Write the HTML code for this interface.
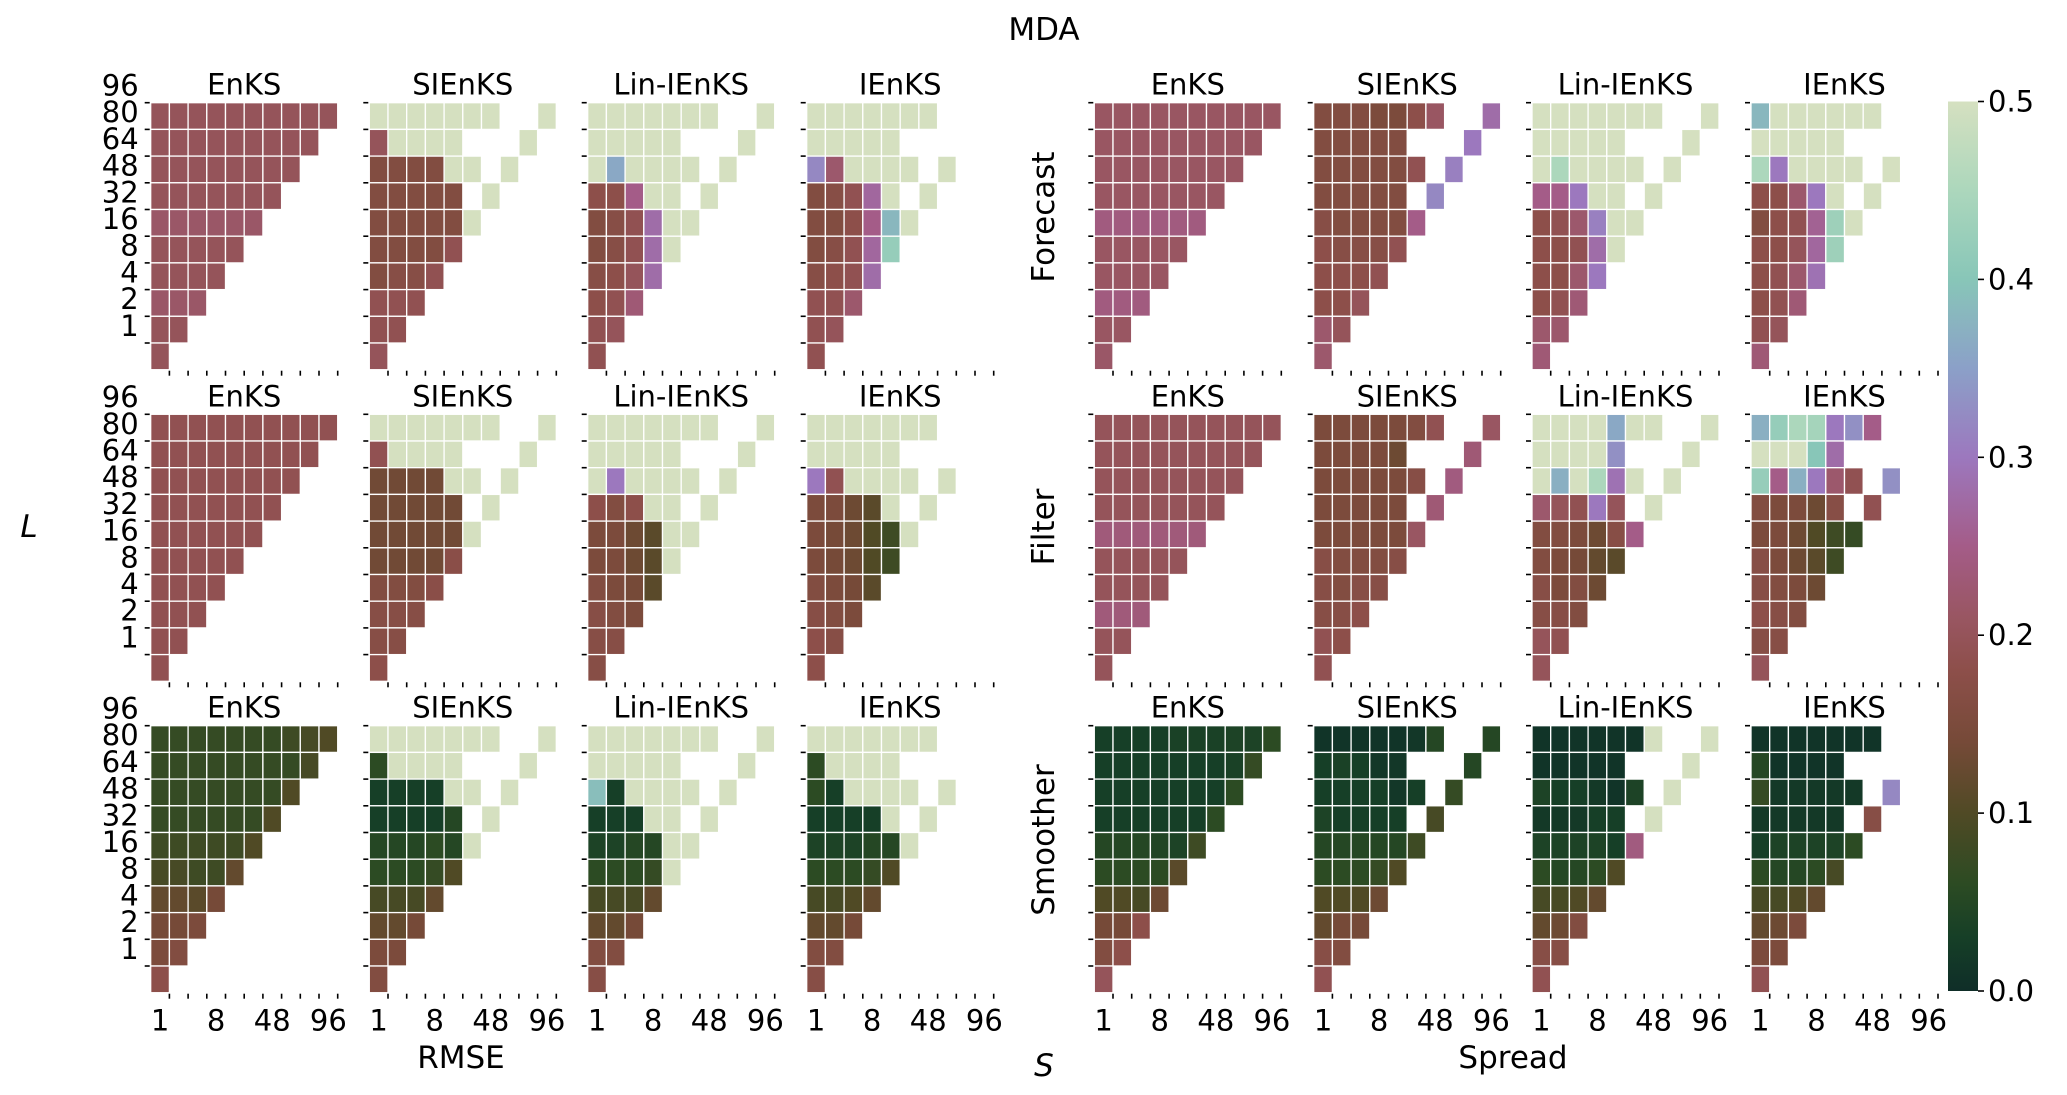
<!DOCTYPE html>
<html><head><meta charset="utf-8"><style>
html,body{margin:0;padding:0;background:#fff;}
svg{display:block;font-family:"DejaVu Sans","Liberation Sans",sans-serif;}
</style></head><body>
<svg id="fig" width="2067" height="1095" viewBox="0 0 2067 1095" xmlns="http://www.w3.org/2000/svg">
<defs>
<linearGradient id="cbgrad" x1="0" y1="1" x2="0" y2="0"></linearGradient>
</defs>
<text x="1044" y="40" font-size="31" text-anchor="middle">MDA</text>
<text x="461" y="1068" font-size="31" text-anchor="middle">RMSE</text>
<text x="1513" y="1068" font-size="31" text-anchor="middle">Spread</text>
<text x="1044" y="1076" font-size="31" font-style="italic" text-anchor="middle">S</text>
<text x="29" y="537" font-size="31" font-style="italic" text-anchor="middle">L</text>
<text transform="translate(1054,217) rotate(-90)" font-size="31" text-anchor="middle">Forecast</text>
<text transform="translate(1054,527) rotate(-90)" font-size="31" text-anchor="middle">Filter</text>
<text transform="translate(1054,840) rotate(-90)" font-size="31" text-anchor="middle">Smoother</text>
<g id="panels"></g>
<g id="colorbar"></g>
</svg>
<script>
const N = null;
const methods = ["EnKS", "SIEnKS", "Lin-IEnKS", "IEnKS"];
const yTickLabels = ["96","80","64","48","32","16","8","4","2","1"];
const xTickLabels = ["1","8","48","96"];
const xTickCells = [0,3,6,9];
const cbTicks = [0.0,0.1,0.2,0.3,0.4,0.5];

// RMSE forecast
const rmseForecastEnKS = [
[0.2,0.2,0.2,0.2,0.2,0.2,0.2,0.2,0.2,0.2],[0.2,0.2,0.2,0.2,0.2,0.2,0.2,0.2,0.2],[0.2,0.2,0.2,0.2,0.2,0.2,0.2,0.2],
[0.2,0.2,0.2,0.2,0.2,0.2,0.2],[0.215,0.215,0.215,0.215,0.215,0.215],[0.2,0.2,0.2,0.2,0.2],[0.2,0.2,0.2,0.2],
[0.215,0.215,0.215],[0.2,0.2],[0.2]];
const rmseForecastSIEnKS = [
[0.5,0.5,0.5,0.5,0.5,0.5,0.5,N,N,0.5],[0.2,0.5,0.5,0.5,0.5,N,N,N,0.5],[0.16,0.16,0.16,0.16,0.5,0.5,N,0.5],
[0.16,0.16,0.16,0.16,0.16,N,0.5],[0.16,0.16,0.16,0.16,0.16,0.5],[0.16,0.16,0.16,0.16,0.19],[0.16,0.17,0.17,0.19],
[0.19,0.19,0.19],[0.19,0.19],[0.2]];
const rmseForecastLin = [
[0.5,0.5,0.5,0.5,0.5,0.5,0.5,N,N,0.5],[0.5,0.5,0.5,0.5,0.5,N,N,N,0.5],[0.5,0.36,0.5,0.5,0.5,0.5,N,0.5],
[0.18,0.18,0.25,0.5,0.5,N,0.5],[0.16,0.17,0.19,0.28,0.5,0.5],[0.16,0.17,0.19,0.28,0.5],[0.17,0.18,0.2,0.28],
[0.18,0.19,0.23],[0.19,0.2],[0.19]];
const rmseForecastIEnKS = [
[0.5,0.5,0.5,0.5,0.5,0.5,0.5,N,N,N],[0.5,0.5,0.5,0.5,0.5,N,N,N,N],[0.32,0.22,0.5,0.5,0.5,0.5,N,0.5],
[0.16,0.17,0.19,0.27,0.5,N,0.5],[0.16,0.16,0.18,0.25,0.38,0.5],[0.16,0.17,0.19,0.27,0.42],[0.17,0.18,0.19,0.28],
[0.19,0.19,0.22],[0.19,0.2],[0.19]];
// RMSE filter
const rmseFilterEnKS = [
[0.19,0.19,0.19,0.19,0.19,0.19,0.19,0.19,0.19,0.19],[0.19,0.19,0.19,0.19,0.19,0.19,0.19,0.19,0.19],[0.19,0.19,0.19,0.19,0.19,0.19,0.19,0.19],
[0.19,0.19,0.19,0.19,0.19,0.19,0.19],[0.19,0.19,0.19,0.19,0.19,0.19],[0.19,0.19,0.19,0.19,0.19],[0.19,0.19,0.19,0.19],
[0.19,0.19,0.19],[0.19,0.19],[0.19]];
const rmseFilterSIEnKS = [
[0.5,0.5,0.5,0.5,0.5,0.5,0.5,N,N,0.5],[0.19,0.5,0.5,0.5,0.5,N,N,N,0.5],[0.135,0.135,0.135,0.135,0.5,0.5,N,0.5],
[0.135,0.135,0.135,0.135,0.135,N,0.5],[0.135,0.135,0.135,0.135,0.135,0.5],[0.135,0.135,0.135,0.135,0.175],[0.16,0.16,0.16,0.175],
[0.17,0.17,0.17],[0.17,0.17],[0.18]];
const rmseFilterLin = [
[0.5,0.5,0.5,0.5,0.5,0.5,0.5,N,N,0.5],[0.5,0.5,0.5,0.5,0.5,N,N,N,0.5],[0.5,0.3,0.5,0.5,0.5,0.5,N,0.5],
[0.18,0.16,0.18,0.5,0.5,N,0.5],[0.15,0.15,0.13,0.11,0.5,0.5],[0.15,0.15,0.13,0.11,0.5],[0.16,0.15,0.14,0.11],
[0.17,0.16,0.15],[0.17,0.17],[0.17]];
const rmseFilterIEnKS = [
[0.5,0.5,0.5,0.5,0.5,0.5,0.5,N,N,N],[0.5,0.5,0.5,0.5,0.5,N,N,N,N],[0.3,0.19,0.5,0.5,0.5,0.5,N,0.5],
[0.15,0.15,0.13,0.11,0.5,N,0.5],[0.15,0.14,0.13,0.1,0.08,0.5],[0.15,0.14,0.13,0.1,0.08],[0.16,0.15,0.14,0.11],
[0.17,0.16,0.15],[0.18,0.17],[0.18]];
// RMSE smoother
const rmseSmootherEnKS = [
[0.07,0.07,0.07,0.07,0.07,0.07,0.07,0.08,0.09,0.1],[0.07,0.07,0.07,0.07,0.07,0.07,0.07,0.07,0.09],[0.07,0.07,0.07,0.07,0.07,0.07,0.07,0.1],
[0.07,0.07,0.07,0.07,0.07,0.07,0.1],[0.08,0.08,0.08,0.08,0.08,0.1],[0.09,0.09,0.08,0.08,0.12],[0.12,0.12,0.11,0.14],
[0.14,0.14,0.15],[0.15,0.16],[0.18]];
const rmseSmootherSIEnKS = [
[0.5,0.5,0.5,0.5,0.5,0.5,0.5,N,N,0.5],[0.06,0.5,0.5,0.5,0.5,N,N,N,0.5],[0.03,0.03,0.03,0.03,0.5,0.5,N,0.5],
[0.03,0.03,0.03,0.03,0.05,N,0.5],[0.05,0.05,0.05,0.06,0.05,0.5],[0.06,0.06,0.06,0.07,0.1],[0.09,0.09,0.09,0.12],
[0.12,0.12,0.14],[0.15,0.15],[0.16]];
const rmseSmootherLin = [
[0.5,0.5,0.5,0.5,0.5,0.5,0.5,N,N,0.5],[0.5,0.5,0.5,0.5,0.5,N,N,N,0.5],[0.39,0.03,0.5,0.5,0.5,0.5,N,0.5],
[0.03,0.03,0.03,0.5,0.5,N,0.5],[0.04,0.04,0.05,0.05,0.5,0.5],[0.06,0.06,0.06,0.07,0.5],[0.09,0.09,0.09,0.12],
[0.12,0.12,0.14],[0.16,0.16],[0.17]];
const rmseSmootherIEnKS = [
[0.5,0.5,0.5,0.5,0.5,0.5,0.5,N,N,N],[0.06,0.5,0.5,0.5,0.5,N,N,N,N],[0.06,0.03,0.5,0.5,0.5,0.5,N,0.5],
[0.03,0.03,0.03,0.03,0.5,N,0.5],[0.04,0.04,0.04,0.05,0.05,0.5],[0.06,0.06,0.06,0.07,0.1],[0.09,0.09,0.1,0.12],
[0.12,0.12,0.14],[0.16,0.16],[0.17]];
// Spread forecast
const spreadForecastEnKS = [
[0.21,0.21,0.21,0.21,0.21,0.21,0.21,0.21,0.21,0.21],[0.21,0.21,0.21,0.21,0.21,0.21,0.21,0.21,0.21],[0.21,0.21,0.21,0.21,0.21,0.21,0.21,0.21],
[0.21,0.21,0.21,0.21,0.21,0.21,0.21],[0.24,0.24,0.24,0.24,0.24,0.24],[0.21,0.21,0.21,0.21,0.21],[0.21,0.21,0.21,0.21],
[0.24,0.24,0.24],[0.21,0.21],[0.215]];
const spreadForecastSIEnKS = [
[0.16,0.16,0.16,0.15,0.15,0.18,0.21,N,N,0.28],[0.16,0.16,0.16,0.16,0.16,N,N,N,0.3],[0.16,0.16,0.16,0.16,0.16,0.19,N,0.31],
[0.16,0.16,0.16,0.16,0.16,N,0.32],[0.17,0.16,0.16,0.16,0.16,0.25],[0.18,0.17,0.17,0.17,0.19],[0.18,0.18,0.18,0.19],
[0.18,0.18,0.2],[0.22,0.2],[0.22]];
const spreadForecastLin = [
[0.5,0.5,0.5,0.5,0.5,0.5,0.5,N,N,0.5],[0.5,0.5,0.5,0.5,0.5,N,N,N,0.5],[0.5,0.45,0.5,0.5,0.5,0.5,N,0.5],
[0.25,0.25,0.3,0.5,0.5,N,0.5],[0.18,0.19,0.22,0.31,0.5,0.5],[0.18,0.18,0.19,0.28,0.5],[0.18,0.18,0.22,0.3],
[0.18,0.19,0.23],[0.22,0.22],[0.23]];
const spreadForecastIEnKS = [
[0.38,0.5,0.5,0.5,0.5,0.5,0.5,N,N,N],[0.5,0.5,0.5,0.5,0.5,N,N,N,N],[0.45,0.3,0.5,0.5,0.5,0.5,N,0.5],
[0.18,0.18,0.22,0.3,0.5,N,0.5],[0.16,0.18,0.19,0.26,0.43,0.5],[0.18,0.18,0.2,0.27,0.43],[0.18,0.19,0.22,0.29],
[0.18,0.19,0.23],[0.19,0.2],[0.23]];
// Spread filter
const spreadFilterEnKS = [
[0.2,0.2,0.2,0.2,0.2,0.2,0.2,0.2,0.2,0.2],[0.2,0.2,0.2,0.2,0.2,0.2,0.2,0.2,0.2],[0.2,0.2,0.2,0.2,0.2,0.2,0.2,0.2],
[0.2,0.2,0.2,0.2,0.2,0.2,0.2],[0.235,0.235,0.235,0.235,0.235,0.235],[0.2,0.2,0.2,0.2,0.2],[0.2,0.2,0.2,0.2],
[0.235,0.235,0.235],[0.2,0.2],[0.2]];
const spreadFilterSIEnKS = [
[0.15,0.15,0.15,0.15,0.15,0.16,0.19,N,N,0.21],[0.15,0.15,0.15,0.15,0.13,N,N,N,0.23],[0.15,0.15,0.15,0.15,0.15,0.17,N,0.24],
[0.15,0.15,0.15,0.15,0.15,N,0.23],[0.15,0.15,0.15,0.15,0.15,0.21],[0.17,0.16,0.16,0.16,0.17],[0.17,0.16,0.17,0.17],
[0.17,0.17,0.18],[0.19,0.18],[0.19]];
const spreadFilterLin = [
[0.5,0.5,0.5,0.5,0.36,0.5,0.5,N,N,0.5],[0.5,0.5,0.5,0.5,0.33,N,N,N,0.5],[0.5,0.37,0.5,0.45,0.29,0.5,N,0.5],
[0.22,0.2,0.19,0.3,0.2,N,0.5],[0.16,0.16,0.15,0.13,0.17,0.25],[0.16,0.15,0.14,0.12,0.11],[0.17,0.15,0.16,0.13],
[0.17,0.17,0.16],[0.2,0.19],[0.2]];
const spreadFilterIEnKS = [
[0.37,0.42,0.45,0.44,0.3,0.33,0.25,N,N,N],[0.5,0.5,0.5,0.4,0.28,N,N,N,N],[0.42,0.25,0.37,0.3,0.22,0.19,N,0.33],
[0.16,0.15,0.15,0.13,0.17,N,0.19],[0.15,0.15,0.13,0.1,0.08,0.07],[0.17,0.15,0.13,0.11,0.08],[0.17,0.16,0.15,0.13],
[0.18,0.17,0.16],[0.17,0.17],[0.2]];
// Spread smoother
const spreadSmootherEnKS = [
[0.03,0.03,0.03,0.03,0.035,0.035,0.035,0.04,0.04,0.06],[0.03,0.03,0.03,0.03,0.03,0.03,0.03,0.035,0.07],[0.03,0.03,0.03,0.03,0.03,0.03,0.03,0.06],
[0.03,0.03,0.03,0.03,0.03,0.03,0.06],[0.05,0.05,0.05,0.045,0.04,0.08],[0.06,0.06,0.06,0.06,0.11],[0.1,0.1,0.09,0.13],
[0.14,0.14,0.18],[0.16,0.18],[0.2]];
const spreadSmootherSIEnKS = [
[0.01,0.01,0.01,0.01,0.01,0.015,0.05,N,N,0.05],[0.03,0.035,0.03,0.015,0.015,N,N,N,0.05],[0.03,0.03,0.03,0.03,0.015,0.03,N,0.07],
[0.04,0.03,0.03,0.03,0.03,N,0.09],[0.05,0.05,0.05,0.05,0.05,0.08],[0.06,0.06,0.06,0.07,0.1],[0.1,0.1,0.1,0.13],
[0.12,0.14,0.14],[0.17,0.16],[0.19]];
const spreadSmootherLin = [
[0.01,0.01,0.01,0.01,0.01,0.01,0.5,N,N,0.5],[0.01,0.01,0.01,0.01,0.01,N,N,N,0.5],[0.04,0.03,0.03,0.02,0.01,0.04,N,0.5],
[0.02,0.02,0.02,0.03,0.03,N,0.5],[0.04,0.04,0.04,0.04,0.03,0.24],[0.06,0.05,0.05,0.06,0.1],[0.09,0.09,0.1,0.12],
[0.12,0.13,0.16],[0.17,0.17],[0.19]];
const spreadSmootherIEnKS = [
[0.01,0.01,0.01,0.01,0.01,0.01,0.01,N,N,N],[0.05,0.01,0.01,0.01,0.01,N,N,N,N],[0.07,0.02,0.02,0.02,0.02,0.02,N,0.32],
[0.02,0.02,0.02,0.02,0.02,N,0.17],[0.03,0.04,0.04,0.04,0.04,0.06],[0.06,0.05,0.05,0.06,0.09],[0.09,0.09,0.1,0.12],
[0.12,0.13,0.15],[0.15,0.15],[0.19]];

const gridRows = [
  [rmseForecastEnKS, rmseForecastSIEnKS, rmseForecastLin, rmseForecastIEnKS, spreadForecastEnKS, spreadForecastSIEnKS, spreadForecastLin, spreadForecastIEnKS],
  [rmseFilterEnKS, rmseFilterSIEnKS, rmseFilterLin, rmseFilterIEnKS, spreadFilterEnKS, spreadFilterSIEnKS, spreadFilterLin, spreadFilterIEnKS],
  [rmseSmootherEnKS, rmseSmootherSIEnKS, rmseSmootherLin, rmseSmootherIEnKS, spreadSmootherEnKS, spreadSmootherSIEnKS, spreadSmootherLin, spreadSmootherIEnKS]
];

// colormap
const cmapStops = [[0,'#0f2e28'],[0.03,'#163f27'],[0.06,'#2c4b23'],[0.1,'#504a25'],[0.14,'#764a38'],[0.18,'#8d4f4a'],[0.21,'#995662'],[0.25,'#a45c88'],[0.3,'#9c78be'],[0.35,'#8ba0c8'],[0.4,'#88c6b8'],[0.45,'#acd7bc'],[0.5,'#d5e0c0']];
function hex(h){return [parseInt(h.slice(1,3),16),parseInt(h.slice(3,5),16),parseInt(h.slice(5,7),16)];}
function cmap(v){
  v=Math.max(0,Math.min(0.5,v));
  for(let i=1;i<cmapStops.length;i++){
    if(v<=cmapStops[i][0]){
      const a=cmapStops[i-1],b=cmapStops[i];const t=(v-a[0])/(b[0]-a[0]);
      const ca=hex(a[1]),cb=hex(b[1]);
      return 'rgb('+ca.map((c,k)=>Math.round(c+(cb[k]-c)*t)).join(',')+')';
    }
  }
  return cmapStops[cmapStops.length-1][1];
}

const NS="http://www.w3.org/2000/svg";
function mk(tag,attrs,parent){const e=document.createElementNS(NS,tag);for(const k in attrs)e.setAttribute(k,attrs[k]);parent.appendChild(e);return e;}

const panelX=[150.7,369.3,587.7,806.7,1094.3,1313.7,1532,1751];
const panelY=[102.7,414.3,725.7];
const cw=18.7, ch=26.7;
function xPos(x0,col){return x0+col*cw;}
function yPos(y0,row){return y0+row*ch;}

const G=document.getElementById('panels');
gridRows.forEach((row,ri)=>{
  row.forEach((data,pi)=>{
    const x0=panelX[pi], y0=panelY[ri];
    const g=mk('g',{},G);
    
    
    const t=mk('text',{x:x0+93.5,y:y0-8,'font-size':29,'text-anchor':'middle'},g);
    t.textContent=methods[pi%4];
    
    
    data.forEach((r,rr)=>{
      r.forEach((v,cc)=>{
        if(v===null)return;
        const rect=mk('rect',{x:xPos(x0,cc),y:yPos(y0,rr),width:cw,height:ch,fill:cmap(v),stroke:'#ffffff','stroke-width':1.3},g);
        
        
      });
    });
    for(let k=0;k<10;k++){
      mk('line',{x1:x0-6,x2:x0-1,y1:yPos(y0,k),y2:yPos(y0,k),stroke:'#000','stroke-width':1.6},g);
    }
    for(let k=1;k<=10;k++){
      mk('line',{x1:xPos(x0,k),x2:xPos(x0,k),y1:y0+10*ch+1,y2:y0+10*ch+6,stroke:'#000','stroke-width':1.6},g);
    }
    if(pi===0){
      yTickLabels.forEach((lab,k)=>{
        const tl=mk('text',{x:x0-12,y:y0-17.7+k*ch+10.5,'font-size':29,'text-anchor':'end'},g);
        tl.textContent=lab;
        
        
      });
    }
    if(ri===2){
      xTickLabels.forEach((lab,k)=>{
        const tl=mk('text',{x:xPos(x0,xTickCells[k])+cw/2,y:y0+10*ch+38,'font-size':29,'text-anchor':'middle'},g);
        tl.textContent=lab;
        
        
      });
    }
  });
});

// colorbar
const CB=document.getElementById('colorbar');


const cbX=1948, cbW=30, cbTop=101.5, cbBot=991;
const grad=document.getElementById('cbgrad');
cmapStops.forEach(s=>{mk('stop',{offset:(s[0]/0.5*100)+'%','stop-color':s[1]},grad);});
const cbr=mk('rect',{x:cbX,y:cbTop,width:cbW,height:cbBot-cbTop,fill:'url(#cbgrad)'},CB);


function cbY(v){return cbBot-(v/0.5)*(cbBot-cbTop);}
cbTicks.forEach(v=>{
  mk('line',{x1:cbX+cbW,x2:cbX+cbW+6,y1:cbY(v),y2:cbY(v),stroke:'#000','stroke-width':1.6},CB);
  const tl=mk('text',{x:cbX+cbW+10,y:cbY(v)+10,'font-size':29},CB);
  tl.textContent=v.toFixed(1);
  
  
});
</script>
</body></html>
